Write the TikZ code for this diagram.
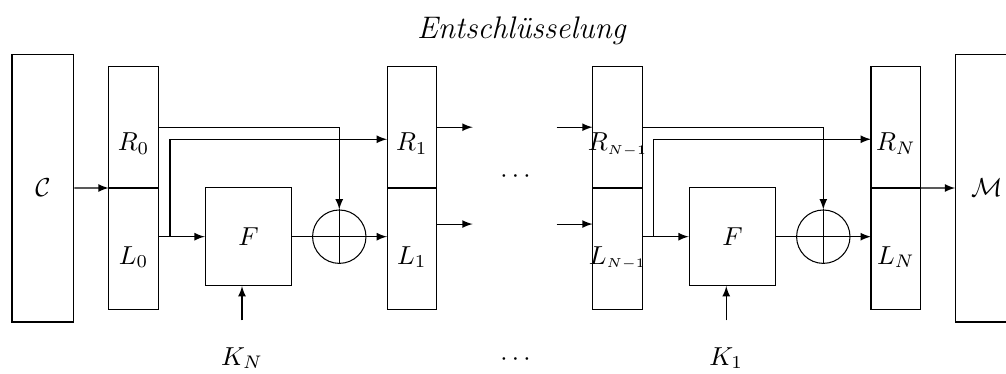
\documentclass[tikz,border=0pt]{standalone}
\usepackage{amsmath,amssymb}
\usepackage{tikz}
\usetikzlibrary{arrows,positioning}
\tikzstyle{half} = [rectangle, draw, minimum width=0.671cm, minimum height=1.643cm, inner sep=0pt, outer sep=0pt]
\tikzstyle{msgbox} = [rectangle, draw, minimum width=0.838cm, minimum height=3.623cm, inner sep=0pt]
\tikzstyle{ffunc} = [rectangle, draw, minimum width=1.168cm, minimum height=1.321cm, inner sep=0pt]
\tikzstyle{xorop} = [circle, draw, minimum size=0.722cm, inner sep=0pt]
\tikzstyle{arrow} = [->,>=latex]
\tikzstyle{lbl} = [anchor=base]

\begin{document}
\begin{tikzpicture}
    \useasboundingbox (0,0) rectangle (13.601,-5.043);
    \node[lbl, font=\large\itshape] (title) at (7.050,-0.518) {Entschlüsselung};
    \node[msgbox] (C) at (0.581,-2.542) {$\mathcal{C}$};
    \node[msgbox] (M) at (13.340,-2.542) {$\mathcal{M}$};
    % erste Runde
    \node[half] (R0) at (1.805,-1.720) {};
    \node[half, below=0cm of R0] (L0) {};
    \node[half, right=3.092cm of R0] (R1) {};
    \node[half, below=0cm of R1] (L1) {};
    \node[ffunc] (F1) at (3.360,-3.200) {$F$};
    \node[xorop] (X1) at (4.587,-3.200) {};
    \node[lbl] (tR0) at ([yshift=-0.318cm]R0.center) {$R_0$};
    \node[lbl] (tL0) at ([yshift=-0.207cm]L0.center) {$L_0$};
    \node[lbl] (tR1) at ([yshift=-0.318cm]R1.center) {$R_1$};
    \node[lbl] (tL1) at ([yshift=-0.207cm]L1.center) {$L_1$};
    \node[lbl] (KN) at (3.272,-4.935) {$K_N$};
    % letzte Runde
    \node[half, right=2.109cm of R1] (RNm) {};
    \node[half, below=0cm of RNm] (LNm) {};
    \node[half, right=3.092cm of RNm] (RN) {};
    \node[half, below=0cm of RN] (LN) {};
    \node[ffunc] (F2) at (9.903,-3.200) {$F$};
    \node[xorop] (X2) at (11.131,-3.200) {};
    \node[lbl] (tRNm) at ([yshift=-0.318cm]RNm.center) {$R_{\scriptscriptstyle N-1}$};
    \node[lbl] (tLNm) at ([yshift=-0.207cm]LNm.center) {$L_{\scriptscriptstyle N-1}$};
    \node[lbl] (tRN) at ([yshift=-0.318cm]RN.center) {$R_N$};
    \node[lbl] (tLN) at ([yshift=-0.207cm]LN.center) {$L_N$};
    \node[lbl] (K1) at (9.819,-4.935) {$K_1$};
    \node[lbl] (dots1) at (7.000,-2.463) {$\cdots$};
    \node[lbl] (dots2) at (7.000,-4.935) {$\cdots$};
    % Hilfspunkte
    \coordinate (s1) at ([xshift=0.158cm]F1 -| L0.east);
    \coordinate (s2) at ([xshift=0.158cm]F2 -| LNm.east);
    \coordinate (o1) at ([xshift=0.487cm]R1.east);
    \coordinate (o2) at ([xshift=0.487cm,yshift=0.334cm]L1.east);
    \coordinate (i1) at ([xshift=-0.487cm]RNm.west);
    \coordinate (i2) at ([xshift=-0.487cm,yshift=0.334cm]LNm.west);
    % Leitungen
    \draw[arrow] (C.east) -- (L0.north west);
    \draw[arrow] (R0.east) -| (X1.north);
    \draw[arrow] (F1 -| L0.east) -- (F1.west);
    \draw[arrow] (s1) |- ([yshift=-0.163cm]R1.west);
    \draw[arrow] (F1.east) -- (F1 -| L1.west);
    \draw (X1.north) -- (X1.south);
    \draw[arrow, shorten <=0.24cm] (KN.north) -- (KN.north |- F1.south);
    \draw[arrow] (R1.east) -- (o1);
    \draw[arrow] (o2 -| L1.east) -- (o2);
    \draw[arrow] (i1) -- (RNm.west);
    \draw[arrow] (i2) -- (i2 -| LNm.west);
    \draw[arrow] (RNm.east) -| (X2.north);
    \draw[arrow] (F2 -| LNm.east) -- (F2.west);
    \draw[arrow] (s2) |- ([yshift=-0.163cm]RN.west);
    \draw[arrow] (F2.east) -- (F2 -| LN.west);
    \draw (X2.north) -- (X2.south);
    \draw[arrow, shorten <=0.24cm] (K1.north) -- (K1.north |- F2.south);
    \draw[arrow] (LN.north east) -- (M.west);
\end{tikzpicture}
\end{document}
